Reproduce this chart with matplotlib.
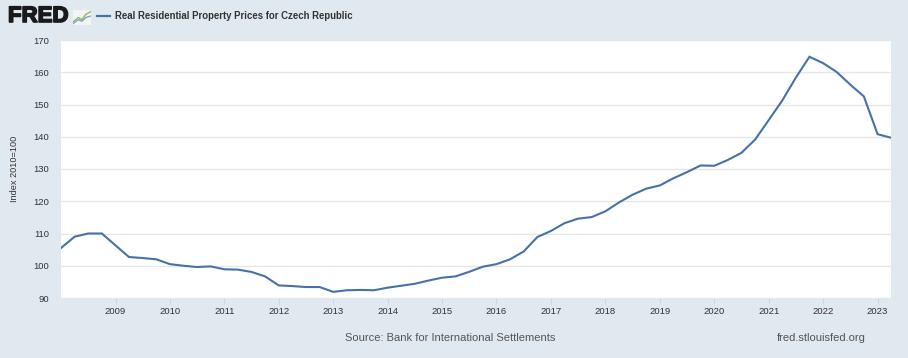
import matplotlib
matplotlib.use('Agg')
import matplotlib.pyplot as plt
import matplotlib.dates as mdates
import matplotlib.patheffects as pe
import numpy as np
import pandas as pd

plt.rcParams['font.family'] = ['Liberation Sans', 'DejaVu Sans']

title = 'Real Residential Property Prices for Czech Republic'
ylabel = 'Index 2010=100'
source = 'Source: Bank for International Settlements'
site = 'fred.stlouisfed.org'

# quarterly, 2008Q1 .. 2023Q2
values = [105.5, 109.0, 110.0, 110.0,
          106.3, 102.7, 102.4, 102.0,
          100.5, 100.0, 99.6, 99.8,
          98.9, 98.8, 98.1, 96.7,
          93.9, 93.7, 93.4, 93.4,
          91.9, 92.4, 92.5, 92.4,
          93.2, 93.8, 94.4, 95.4,
          96.3, 96.7, 98.1, 99.7,
          100.5, 102.0, 104.4, 108.9,
          110.8, 113.2, 114.6, 115.1,
          116.9, 119.6, 122.0, 123.9,
          124.9, 127.1, 129.0, 131.1,
          131.0, 132.8, 135.0, 139.1,
          145.2, 151.2, 158.3, 164.8,
          162.8, 160.1, 156.2, 152.5,
          140.8, 139.7]
dates = pd.date_range('2008-01-01', periods=len(values), freq='QS')
year_ticks = pd.date_range('2009-01-01', '2023-01-01', freq='YS')

bg = '#e1e9f0'
txt = '#333333'
fig = plt.figure(figsize=(9.08, 3.58), dpi=100, facecolor=bg)
ax = fig.add_axes([61/908, 60/358, 830/908, 258/358])
ax.set_facecolor('white')

ax.plot(dates, values, color='#4572a7', lw=1.5, solid_joinstyle='miter')

ax.set_xlim(dates[0], dates[-1])
ax.set_ylim(90, 170)
ax.set_yticks(np.arange(90, 171, 10))
ax.set_xticks(year_ticks)
ax.xaxis.set_major_formatter(mdates.DateFormatter('%Y'))

ax.grid(axis='y', color='#e6e6e6', lw=1)
ax.set_axisbelow(True)
for s in ax.spines.values():
    s.set_visible(False)
ax.tick_params(axis='y', length=0, pad=8.6, labelsize=6.8, labelcolor=txt)
ax.tick_params(axis='x', length=4.3, width=0.8, color='#ccd6eb', pad=2,
               labelsize=6.8, labelcolor=txt)
ax.set_ylabel(ylabel, fontsize=6.6, color=txt, labelpad=10)

# header
fig.text(8/908, 1 - 16.5/358, 'FRED', fontsize=16, fontweight='bold',
         color='#1a1a1a', va='center', ha='left',
         path_effects=[pe.withStroke(linewidth=1.2, foreground='#1a1a1a')])
icon = fig.add_axes([73/908, 1 - 25/358, 18/908, 15/358])
icon.set_facecolor('#f4f4f4')
icon.plot([0, 0.3, 0.5, 0.7, 1], [0.2, 0.5, 0.35, 0.7, 0.9], color='#8fb56d', lw=1)
icon.plot([0, 0.3, 0.5, 0.7, 1], [0.1, 0.35, 0.25, 0.5, 0.6], color='#7fa6cc', lw=1)
icon.set_xlim(0, 1)
icon.set_ylim(0, 1)
icon.set_xticks([])
icon.set_yticks([])
for s in icon.spines.values():
    s.set_visible(False)

fig.add_artist(plt.Line2D([97/908, 110/908], [1 - 16/358, 1 - 16/358],
                          color='#4572a7', lw=1.6))
fig.text(115/908, 1 - 16/358, title, fontsize=6.9, fontweight='bold',
         color=txt, va='center', ha='left')

# footer
fig.text(345/908, 1 - 338/358, source, fontsize=8, color='#555555',
         va='center', ha='left')
fig.text(866/908, 1 - 338/358, site, fontsize=8, color='#555555',
         va='center', ha='right')

fig.savefig('out.png', dpi=100, facecolor=bg)
